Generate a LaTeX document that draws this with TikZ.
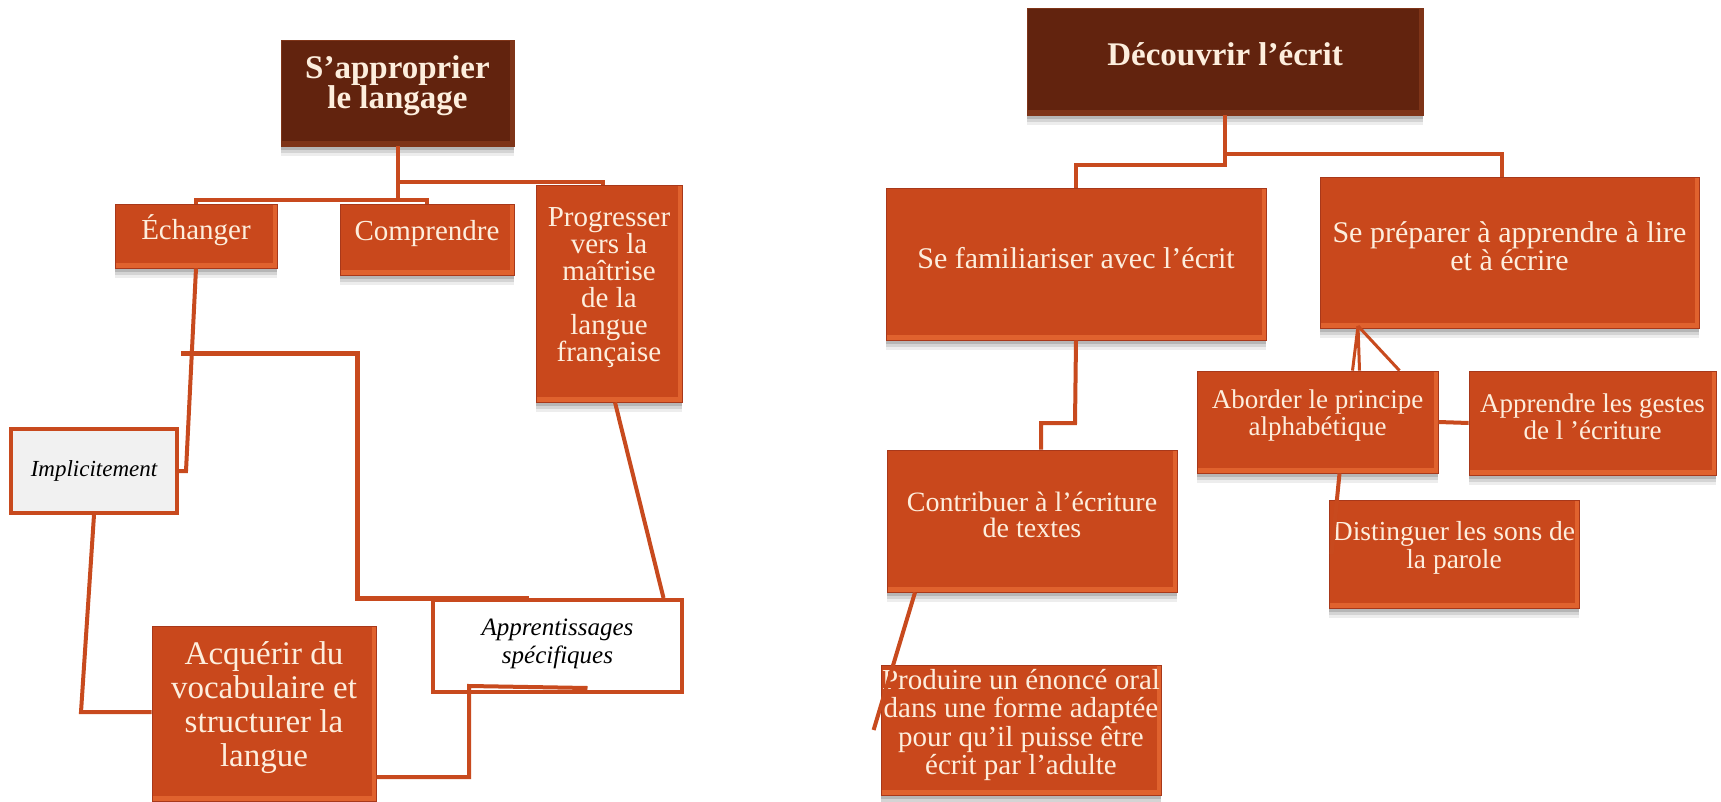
\documentclass[tikz,border=0pt]{standalone}
\usepackage{fontspec}
\setmainfont{Liberation Serif}
\usetikzlibrary{shadows}
\definecolor{orangeface}{HTML}{C9481C}
\definecolor{orangeedge}{HTML}{E0622E}
\definecolor{orangedark}{HTML}{A8381A}
\definecolor{brownface}{HTML}{62230E}
\definecolor{brownedge}{HTML}{7E3418}
\definecolor{conncol}{HTML}{C84A1E}
\definecolor{creamtext}{HTML}{FDEEDD}
\definecolor{greyfill}{HTML}{F1F1F1}
\tikzset{
  basebox/.style={rectangle, inner sep=0pt,
    drop shadow={shadow xshift=0pt, shadow yshift=-10pt, opacity=0.07, fill=black},
    drop shadow={shadow xshift=0pt, shadow yshift=-7pt, opacity=0.10, fill=black},
    drop shadow={shadow xshift=0pt, shadow yshift=-4pt, opacity=0.14, fill=black}},
  obox/.style={basebox, fill=orangeface, draw=orangedark, line width=0.8pt,
    path picture={
      \fill[orangeedge] ([yshift=5pt]path picture bounding box.south west) rectangle (path picture bounding box.south east);
      \fill[orangeedge] ([xshift=-4pt]path picture bounding box.north east) rectangle (path picture bounding box.south east);
    }},
  bbox/.style={basebox, fill=brownface, draw=brownedge, line width=0.8pt,
    path picture={
      \fill[brownedge] ([yshift=5pt]path picture bounding box.south west) rectangle (path picture bounding box.south east);
      \fill[brownedge] ([xshift=-4pt]path picture bounding box.north east) rectangle (path picture bounding box.south east);
    }},
  wbox/.style={rectangle, inner sep=0pt, draw=conncol, line width=4pt},
  otxt/.style={text=creamtext, align=center, yshift=6pt},
  btxt/.style={text=creamtext, align=center, yshift=7pt, font=\bfseries\fontsize{33}{30}\selectfont},
  itxt/.style={text=black, align=center, font=\itshape\fontsize{23}{28}\selectfont},
  conn/.style={draw=conncol, line width=4pt, line join=miter},
}
\begin{document}
\begin{tikzpicture}[x=1pt, y=-1pt]
\useasboundingbox[fill=white] (0,0) rectangle (1721,802);

% ---------- left tree ----------
\node[bbox, minimum width=233pt, minimum height=106pt,
  label={[btxt]center:S’approprier\\le langage}] (sap) at (397.5,93) {};
\node[obox, minimum width=162pt, minimum height=64pt,
  label={[otxt, font=\fontsize{29}{27}\selectfont]center:Échanger}] (ech) at (196,236) {};
\node[obox, minimum width=174pt, minimum height=71pt,
  label={[otxt, font=\fontsize{29}{27}\selectfont]center:Comprendre}] (comp) at (427,239.5) {};
\node[obox, minimum width=146pt, minimum height=217pt,
  label={[otxt, font=\fontsize{29}{27}\selectfont]center:Progresser\\vers la\\maîtrise\\de la\\langue\\française}] (prog) at (609,293.5) {};
\node[wbox, fill=greyfill, minimum width=166pt, minimum height=84pt,
  label={[itxt]center:Implicitement}] (impl) at (94,471) {};
\node[wbox, fill=white, minimum width=249pt, minimum height=92pt,
  label={[itxt, yshift=2pt, font=\itshape\fontsize{25}{28}\selectfont]center:Apprentissages\\spécifiques}] (apps) at (557.5,646) {};
\node[obox, minimum width=224pt, minimum height=175pt,
  label={[otxt, font=\fontsize{33}{34}\selectfont]center:Acquérir du\\vocabulaire et\\structurer la\\langue}] (acq) at (264,713.5) {};

\coordinate (j1) at (397.5,182);
\coordinate (e1) at (186,471);
\coordinate (i1) at (81,712);
\coordinate (r0) at (181,353);
\coordinate (r1) at (357,598);
\coordinate (a1) at (469,686);
\coordinate (a2) at (469,777);

\draw[conn] (sap.south) -- ([yshift=4pt]sap.south |- ech.north);
\draw[conn] (ech.north) -- ++(0,-4) -| (comp.north);
\draw[conn] (j1) -| ([xshift=-6pt]prog.north);
\draw[conn] (ech.south) -- (e1) -- (impl.east);
\draw[conn] (impl.south) -- (i1) -- (i1 -| acq.west);
\draw[conn, line width=5pt] (r0) -| (r1) -- (r1 -| 529,0);
\draw[conn] ([xshift=6pt]prog.south) -- ([xshift=106pt]apps.north);
\draw[conn] ([xshift=30pt,yshift=6pt]apps.south) -- (a1) -- (a2) -- (a2 -| acq.east);

% ---------- right tree ----------
\node[bbox, minimum width=396pt, minimum height=107pt,
  label={[btxt]center:Découvrir l’écrit}] (dec) at (1225,61.5) {};
\node[obox, minimum width=380pt, minimum height=152pt,
  label={[otxt, font=\fontsize{30}{26}\selectfont]center:Se familiariser avec l’écrit}] (fam) at (1076,264) {};
\node[obox, minimum width=379pt, minimum height=151pt,
  label={[otxt, font=\fontsize{30}{26}\selectfont]center:Se préparer à apprendre à lire\\et à écrire}] (prep) at (1509.5,252.5) {};
\node[obox, minimum width=290pt, minimum height=142pt,
  label={[otxt, font=\fontsize{28}{26}\selectfont]center:Contribuer à l’écriture\\de textes}] (contrib) at (1032,521) {};
\node[obox, minimum width=280pt, minimum height=130pt,
  label={[otxt, yshift=-1pt, font=\fontsize{29}{28.5}\selectfont]center:Produire un énoncé oral\\dans une forme adaptée\\pour qu’il puisse être\\écrit par l’adulte}] (prod) at (1021,730) {};
\node[obox, minimum width=241pt, minimum height=102pt,
  label={[otxt, font=\fontsize{27}{27}\selectfont]center:Aborder le principe\\alphabétique}] (abo) at (1317.5,422) {};
\node[obox, minimum width=247pt, minimum height=104pt,
  label={[otxt, font=\fontsize{27}{27}\selectfont]center:Apprendre les gestes\\de l ’écriture}] (app) at (1592.5,423) {};
\node[obox, minimum width=250pt, minimum height=108pt,
  label={[otxt, font=\fontsize{27.5}{28}\selectfont]center:Distinguer les sons de\\la parole}] (dist) at (1454,554) {};

\coordinate (d1) at (1225,165);
\coordinate (d2) at (1225,154);
\coordinate (f1) at (1075,423);
\coordinate (p0) at (1358,326);

\draw[conn] (dec.south) -- (d1) -| (fam.north);
\draw[conn] (d2) -| ([xshift=-8pt]prep.north);
\draw[conn] (fam.south) -- (f1) -| ([xshift=9pt]contrib.north);
\draw[conn] ([xshift=-117pt]contrib.south) -- ([xshift=-7pt]prod.west);
\draw[conn, line width=3pt] (p0) -- ([xshift=35pt]abo.north);
\draw[conn, line width=3pt] (p0) -- ([xshift=42pt]abo.north);
\draw[conn, line width=3pt] (p0) -- ([xshift=82pt]abo.north);
\draw[conn] (abo.east) -- (app.west);
\draw[conn] ([xshift=22pt]abo.south) -- ([xshift=3pt]dist.west);
\end{tikzpicture}
\end{document}
